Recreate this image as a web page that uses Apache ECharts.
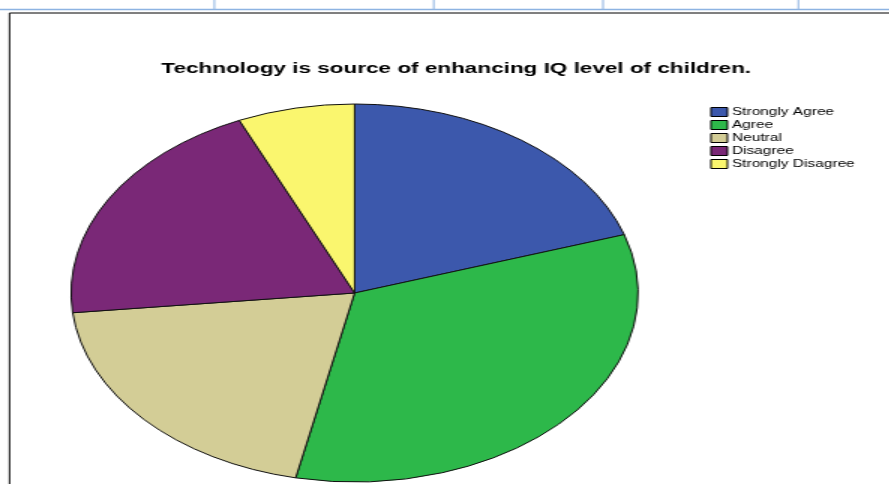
<!DOCTYPE html>
<html>
<head>
<meta charset="utf-8">
<script src="https://cdn.jsdelivr.net/npm/echarts@6/dist/echarts.min.js"></script>
<style>
  html, body { margin: 0; padding: 0; background: #fff; overflow: hidden; }
  #stage { width: 889px; height: 484px; position: relative; overflow: hidden; }
  /* The chart is laid out at a narrower width and widened horizontally,
     which gives the pie its oval shape and the wide lettering. */
  #chart { position: absolute; left: 0; top: 0; height: 484px; transform-origin: 0 0; }
</style>
</head>
<body>
<div id="stage"><div id="chart"></div></div>
<script>
// Survey responses
const titleText = 'Technology is source of enhancing IQ level of children.';
const categories = ['Strongly Agree', 'Agree', 'Neutral', 'Disagree', 'Strongly Disagree'];
const counts = [6, 10, 6, 6, 2];
const colors = ['#3C58AC', '#2DB84A', '#D3CD96', '#7A2877', '#FAF66E'];

const STRETCH = 1.4974;
const W = 889 / STRETCH;
const el = document.getElementById('chart');
el.style.width = W + 'px';
el.style.transform = 'scaleX(' + STRETCH + ')';

const chart = echarts.init(el, null, { renderer: 'canvas', width: W, height: 484 });

const sx = x => x / STRETCH;
const frameBlue = '#8DB3E2';

chart.setOption({
  animation: false,
  backgroundColor: '#fff',
  color: colors,
  title: {
    text: titleText,
    left: sx(448),
    textAlign: 'center',
    top: 56,
    textStyle: {
      fontFamily: 'Liberation Sans',
      fontWeight: 'bold',
      fontSize: 15,
      color: '#000'
    }
  },
  legend: {
    orient: 'vertical',
    left: sx(709) - 5,
    top: 102,
    itemWidth: 11,
    itemHeight: 9,
    itemGap: 3,
    icon: 'rect',
    selectedMode: false,
    itemStyle: { borderColor: '#000', borderWidth: 1 },
    textStyle: {
      fontFamily: 'Liberation Sans',
      fontSize: 10.3,
      lineHeight: 9,
      color: '#000',
      padding: [0, 0, 0, -2]
    },
    data: categories
  },
  graphic: [
    // page rule and column ticks along the top
    { type: 'line', shape: { x1: 0, y1: 9.5, x2: W, y2: 9.5 }, style: { stroke: frameBlue, lineWidth: 1.5 }, silent: true },
    ...[214, 433, 602, 797].map(x => ({
      type: 'line', shape: { x1: sx(x), y1: 0, x2: sx(x), y2: 9 }, style: { stroke: frameBlue, lineWidth: 1 }, silent: true
    })),
    // chart frame
    { type: 'line', shape: { x1: sx(9.5), y1: 13, x2: W, y2: 13 }, style: { stroke: '#000', lineWidth: 1 }, silent: true },
    { type: 'line', shape: { x1: sx(9.5), y1: 13, x2: sx(9.5), y2: 484 }, style: { stroke: '#000', lineWidth: 1 }, silent: true }
  ],
  series: [{
    type: 'pie',
    center: [sx(354), 293],
    radius: 189,
    startAngle: 90,
    clockwise: true,
    avoidLabelOverlap: false,
    silent: true,
    label: { show: false },
    labelLine: { show: false },
    emphasis: { disabled: true },
    itemStyle: { borderColor: '#111', borderWidth: 1 },
    data: categories.map((name, i) => ({ name, value: counts[i] }))
  }]
});
</script>
</body>
</html>
